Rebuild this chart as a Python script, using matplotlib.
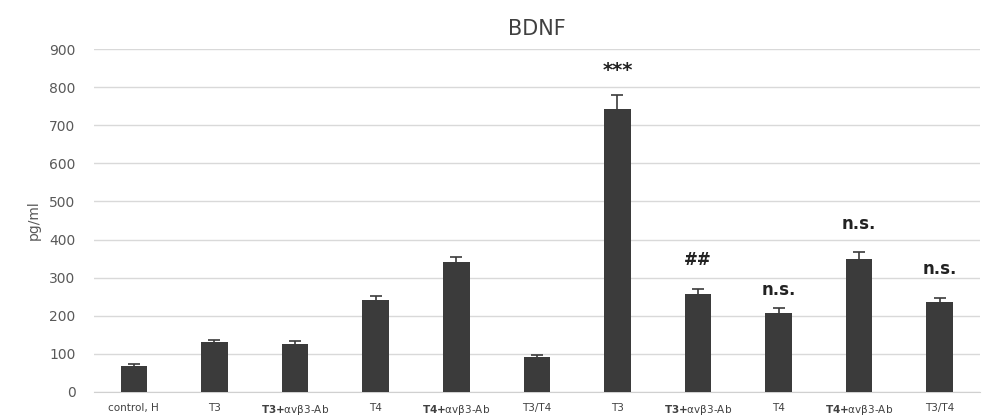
import matplotlib
matplotlib.use("Agg")
import matplotlib.pyplot as plt

categories = ["control, H", "T3", r"$\mathbf{T3{+}}$αvβ3-Ab", "T4", r"$\mathbf{T4{+}}$αvβ3-Ab", "T3/T4",
              "T3", r"$\mathbf{T3{+}}$αvβ3-Ab", "T4", r"$\mathbf{T4{+}}$αvβ3-Ab", "T3/T4"]
values = [68, 130, 125, 240, 340, 92, 742, 256, 208, 350, 236]
errors = [4, 7, 8, 13, 15, 5, 38, 13, 11, 16, 10]
annot_text = ["", "", "", "", "", "", "***", "##", "n.s.", "n.s.", "n.s."]
annot_y = [None, None, None, None, None, None, 843, 345, 268, 440, 322]
yticks = [0, 100, 200, 300, 400, 500, 600, 700, 800, 900]

fig = plt.figure(figsize=(9.85, 4.2), dpi=100)
ax = fig.add_axes([0.095, 0.067, 0.9, 0.816])
x = list(range(len(categories)))
ax.bar(x, values, width=0.33, color="#3b3b3b", zorder=3,
       yerr=errors, error_kw=dict(ecolor="#3b3b3b", elinewidth=1.2, capsize=4, capthick=1.2))
for xi, t, y in zip(x, annot_text, annot_y):
    if t:
        ax.text(xi, y, t, ha="center", va="center",
                fontsize=14 if t == "***" else 12, fontweight="bold", color="#222222")
ax.set_xlim(-0.5, len(categories) - 0.5)
ax.set_ylim(0, 900)
ax.set_yticks(yticks)
ax.set_xticks(x)
ax.set_xticklabels(categories, fontsize=7.5, color="#404040")
ax.tick_params(axis="y", labelsize=10, colors="#595959", length=0, pad=13)
ax.tick_params(axis="x", length=0, pad=8)
ax.grid(axis="y", color="#d9d9d9", linewidth=1, zorder=0)
for s in ["top", "right", "left"]:
    ax.spines[s].set_visible(False)
ax.spines["bottom"].set_color("#d0d0d0")
ax.set_ylabel("pg/ml", fontsize=10, color="#595959", labelpad=6)
ax.set_title("BDNF", fontsize=15, color="#404040", pad=10)
fig.savefig("out.png", dpi=100)
